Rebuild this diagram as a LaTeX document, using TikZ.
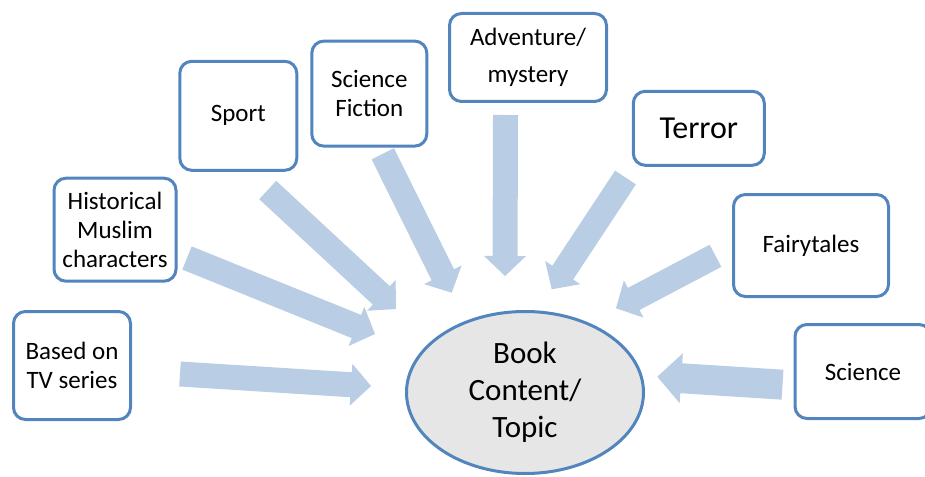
\documentclass[tikz,border=0pt]{standalone}
\usepackage{fontspec}
\setmainfont{Carlito}
\usetikzlibrary{calc,shapes.geometric}

\definecolor{boxblue}{RGB}{82,132,190}
\definecolor{arrowfill}{RGB}{185,205,229}
\definecolor{hubgray}{RGB}{230,230,230}

% Block arrow from #1 (middle of the tail) to #2 (tip):
% #3 half shaft width, #4 half head width, #5 head length
\newcommand{\blockarrow}[5]{%
  \fill[arrowfill]
    ($(#1)!#3!90:(#2)$)
    -- ($(#2)!#5!(#1)!#3!90:(#2)$)
    -- ($(#2)!#5!(#1)!#4!90:(#2)$)
    -- (#2)
    -- ($(#2)!#5!(#1)!#4!-90:(#2)$)
    -- ($(#2)!#5!(#1)!#3!-90:(#2)$)
    -- ($(#1)!#3!-90:(#2)$)
    -- cycle;}

\tikzset{
  topic/.style={draw=boxblue, line width=3pt, rounded corners=12pt,
    fill=white, align=center, inner sep=0pt,
    font=\fontsize{25}{29}\selectfont},
  hub/.style={ellipse, draw=boxblue, line width=3pt, fill=hubgray,
    inner sep=0pt, minimum width=237pt, minimum height=162pt,
    align=center, font=\fontsize{31}{37}\selectfont},
}

\begin{document}
\begin{tikzpicture}[x=1pt,y=-1pt]
  \useasboundingbox (0,0) rectangle (925,476);
  \clip (0,0) rectangle (925,476);

  % tails and tips of the block arrows
  \coordinate (tv-s)  at (180,374);   \coordinate (tv-t)  at (371,386);
  \coordinate (his-s) at (187,258);   \coordinate (his-t) at (375,334);
  \coordinate (spo-s) at (267.7,190); \coordinate (spo-t) at (396,309);
  \coordinate (sf-s)  at (382.8,153.8); \coordinate (sf-t) at (451.7,292.7);
  \coordinate (adv-s) at (505.5,115); \coordinate (adv-t) at (505,276);
  \coordinate (ter-s) at (625.5,177.5); \coordinate (ter-t) at (551.7,289.3);
  \coordinate (fai-s) at (715.5,255.8); \coordinate (fai-t) at (616,308.3);
  \coordinate (sci-s) at (782.5,384.7); \coordinate (sci-t) at (657.3,376.7);

  \blockarrow{tv-s}{tv-t}{12.5pt}{21pt}{20pt}
  \blockarrow{his-s}{his-t}{12.5pt}{21pt}{20pt}
  \blockarrow{spo-s}{spo-t}{12.5pt}{21pt}{20pt}
  \blockarrow{sf-s}{sf-t}{12.5pt}{21pt}{20pt}
  \blockarrow{adv-s}{adv-t}{12.5pt}{21pt}{20pt}
  \blockarrow{ter-s}{ter-t}{12.5pt}{21pt}{20pt}
  \blockarrow{fai-s}{fai-t}{12.5pt}{21pt}{20pt}
  \blockarrow{sci-s}{sci-t}{15pt}{25pt}{24pt}

  % central topic
  \node[hub] (book) at (525,392.5) {Book\\Content/\\Topic};

  % surrounding topics
  \node[topic, minimum width=117pt, minimum height=108pt] (tv)  at (72,365.5) {Based on\\TV series};
  \node[topic, minimum width=122pt, minimum height=103pt] (his) at (115,229.7) {Historical\\Muslim\\characters};
  \node[topic, minimum width=117pt, minimum height=109pt] (spo) at (238.3,115.8) {Sport};
  \node[topic, minimum width=115pt, minimum height=105pt] (sf)  at (369.3,93.6) {Science\\Fiction};
  \node[topic, minimum width=157pt, minimum height=88pt]  (adv) at (528,57.5) {Adventure/\\[8pt]mystery};
  \node[topic, minimum width=131pt, minimum height=74pt, font=\fontsize{32}{38}\selectfont] (ter) at (698.8,128.3) {Terror};
  \node[topic, minimum width=155pt, minimum height=102pt] (fai) at (811,245.5) {Fairytales};
  \node[topic, minimum width=136pt, minimum height=94pt]  (sci) at (863,371.5) {Science};
\end{tikzpicture}
\end{document}
